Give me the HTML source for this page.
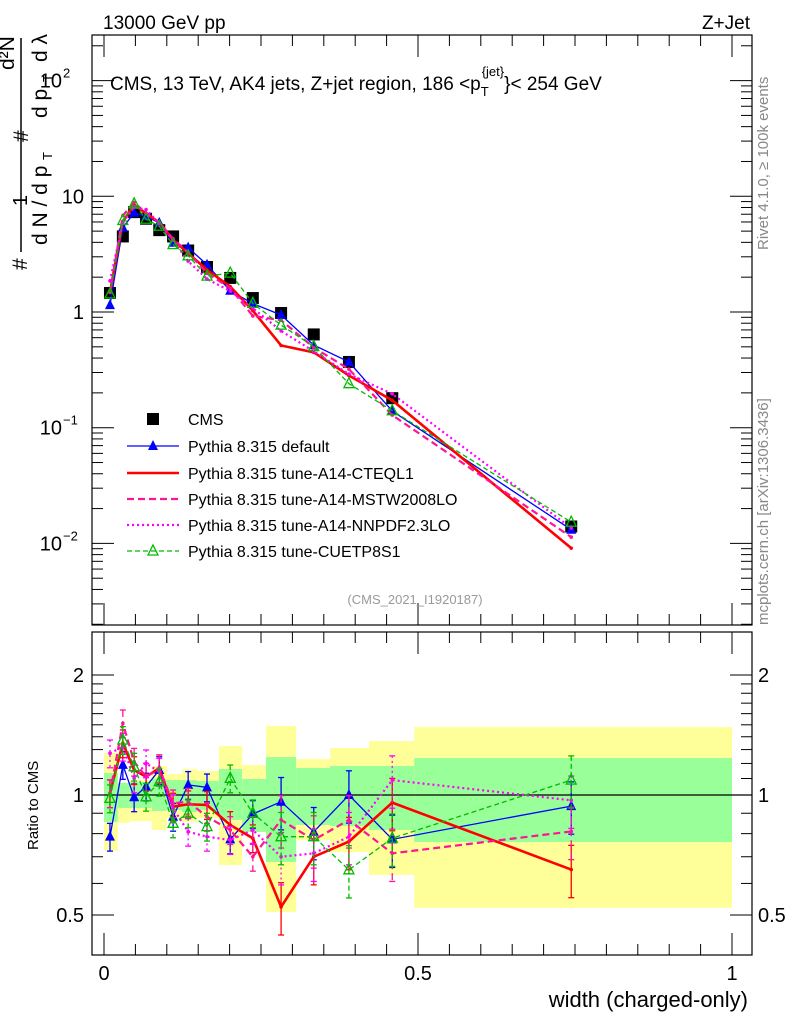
<!DOCTYPE html>
<html><head><meta charset="utf-8"><style>
body{margin:0;background:#fff;}
svg{display:block;font-family:"Liberation Sans",sans-serif;}
</style></head><body>
<svg id="c" width="786" height="1024" viewBox="0 0 786 1024">
<g id="bands"></g>
<g id="axes"></g>
<g id="series"></g>
<text x="103" y="29" font-size="19">13000 GeV pp</text>
<text x="750" y="29" font-size="19" text-anchor="end">Z+Jet</text>
<text x="110" y="90" font-size="19">CMS, 13 TeV, AK4 jets, Z+jet region, 186 &lt;p<tspan font-size="13" dy="6">T</tspan><tspan font-size="13" dx="-7" dy="-20">{jet}</tspan><tspan dy="14">}&lt; 254 GeV</tspan></text>
<text x="415" y="604" font-size="13" fill="#999" text-anchor="middle">(CMS_2021_I1920187)</text>
<text transform="translate(768,250) rotate(-90)" font-size="15" fill="#888">Rivet 4.1.0, ≥ 100k events</text>
<text transform="translate(768,625) rotate(-90)" font-size="15" fill="#888">mcplots.cern.ch [arXiv:1306.3436]</text>
<text transform="translate(38,850) rotate(-90)" font-size="15">Ratio to CMS</text>
<text x="748" y="1007" font-size="22" text-anchor="end">width (charged-only)</text>
<g font-size="21">
<text transform="translate(27,270) rotate(-90)">#</text>
<text transform="translate(27,206) rotate(-90)" font-size="20">1</text>
<line x1="21" y1="252" x2="21" y2="38" stroke="#000" stroke-width="1.5"/>
<text transform="translate(47,245) rotate(-90)">d N / d p</text>
<text transform="translate(52,160) rotate(-90)" font-size="13">T</text>
<text transform="translate(28,142) rotate(-90)">#</text>
<text transform="translate(14,70) rotate(-90)">d²N</text>
<text transform="translate(47,118) rotate(-90)">d p</text>
<text transform="translate(52,82) rotate(-90)" font-size="13">T</text>
<text transform="translate(47,62) rotate(-90)">d λ</text>
</g>
<g id="legend"></g>
</svg>
<script>
const cmsX=[0.0095,0.030,0.048,0.067,0.088,0.110,0.134,0.164,0.201,0.237,0.282,0.334,0.390,0.459,0.744];
const cmsY=[1.46,4.5,7.3,6.4,5.1,4.5,3.4,2.45,1.97,1.32,0.98,0.64,0.37,0.18,0.014];
const binEdges=[0,0.022,0.041,0.076,0.1,0.124,0.148,0.183,0.220,0.258,0.306,0.360,0.422,0.494,1.0];
const greenHi=[1.136,1.072,1.078,1.097,1.09,1.09,1.084,1.162,1.097,1.245,1.169,1.182,1.182,1.238];
const greenLo=[0.856,0.928,0.928,0.912,0.917,0.906,0.917,0.866,0.808,0.679,0.841,0.836,0.817,0.762];
const yellowHi=[1.275,1.072,1.09,1.182,1.129,1.162,1.149,1.327,1.189,1.49,1.231,1.312,1.366,1.481];
const yellowLo=[0.724,0.851,0.86,0.817,0.875,0.856,0.875,0.667,0.808,0.509,0.771,0.719,0.63,0.521];
const rDefault=[0.786,1.19,0.987,1.05,1.155,0.882,1.06,1.045,0.774,0.896,0.962,0.809,1.0,0.774,0.938];
const rA14=[1.01,1.348,1.155,1.111,1.167,0.935,0.948,0.944,0.841,0.779,0.524,0.7,0.764,0.957,0.65];
const rMSTW=[1.01,1.513,1.212,1.111,1.167,0.953,0.962,0.882,0.817,0.7,0.866,0.771,0.866,0.714,0.81];
const rNNPDF=[1.272,1.322,1.101,1.201,1.144,0.926,0.809,0.786,0.771,0.817,0.7,0.714,0.786,1.09,0.97];
const rCUETP=[0.981,1.374,1.178,0.99,1.08,0.849,0.9,0.833,1.101,0.9,0.786,0.786,0.649,0.779,1.09];
const legendLabels=["CMS","Pythia 8.315 default","Pythia 8.315 tune-A14-CTEQL1","Pythia 8.315 tune-A14-MSTW2008LO","Pythia 8.315 tune-A14-NNPDF2.3LO","Pythia 8.315 tune-CUETP8S1"];
const ns="http://www.w3.org/2000/svg";
const X=v=>104+628*v;
const Ym=v=>312-115.7*Math.log10(v);
const Yr=r=>795-173.1*Math.log(r);
function mk(p,tag,at){const e=document.createElementNS(ns,tag);for(const k in at)e.setAttribute(k,at[k]);p.appendChild(e);return e;}
const bands=document.getElementById('bands'),axes=document.getElementById('axes'),ser=document.getElementById('series'),leg=document.getElementById('legend');
for(let i=0;i<greenHi.length;i++){
 const y=mk(bands,'rect',{x:X(binEdges[i]),width:X(binEdges[i+1])-X(binEdges[i]),y:Yr(yellowHi[i]),height:Yr(yellowLo[i])-Yr(yellowHi[i]),fill:'#ffff99'});
 
 
 const g=mk(bands,'rect',{x:X(binEdges[i]),width:X(binEdges[i+1])-X(binEdges[i]),y:Yr(greenHi[i]),height:Yr(greenLo[i])-Yr(greenHi[i]),fill:'#99ff99'});
 
 
}
mk(axes,'rect',{x:92,y:35,width:660,height:590,fill:'none',stroke:'#000','stroke-width':1.2});
mk(axes,'rect',{x:92,y:632,width:660,height:323,fill:'none',stroke:'#000','stroke-width':1.2});
mk(axes,'line',{x1:92,x2:752,y1:Yr(1),y2:Yr(1),stroke:'#000','stroke-width':1.2});
for(let d=-3;d<=2;d++){for(let m=1;m<10;m++){const v=m*Math.pow(10,d);const y=Ym(v);if(y<35||y>625)continue;const L=m==1?22:11;
 mk(axes,'line',{x1:92,x2:92+L,y1:y,y2:y,stroke:'#000'});mk(axes,'line',{x1:752,x2:752-L,y1:y,y2:y,stroke:'#000'});}}
[[10,'10'],[1,'1']].forEach(([v,t])=>{const e=mk(axes,'text',{x:84,y:Ym(v)+7,'font-size':20,'text-anchor':'end'});e.textContent=t;});
[[0.1,'−1'],[0.01,'−2'],[100,'2']].forEach(([v,t])=>{const e=mk(axes,'text',{x:62,y:Ym(v)+7,'font-size':20,'text-anchor':'end'});e.textContent='10';const s=mk(axes,'text',{x:63,y:Ym(v)-3,'font-size':13});s.textContent=t;});
[0.5,0.6,0.7,0.8,0.9,1,2].forEach(r=>{const L=(r==1||r==2||r==0.5)?22:11;const y=Yr(r);mk(axes,'line',{x1:92,x2:92+L,y1:y,y2:y,stroke:'#000'});mk(axes,'line',{x1:752,x2:752-L,y1:y,y2:y,stroke:'#000'});});
[1.1,1.2,1.3,1.4,1.5,1.6,1.7,1.8,1.9].forEach(r=>{const y=Yr(r);mk(axes,'line',{x1:92,x2:103,y1:y,y2:y,stroke:'#000'});mk(axes,'line',{x1:752,x2:741,y1:y,y2:y,stroke:'#000'});});
[[2,'2'],[1,'1'],[0.5,'0.5']].forEach(([r,t])=>{const a=mk(axes,'text',{x:84,y:Yr(r)+7,'font-size':20,'text-anchor':'end'});a.textContent=t;const b=mk(axes,'text',{x:758,y:Yr(r)+7,'font-size':20});b.textContent=t;});
for(let i=0;i<=20;i++){const v=i*0.05;const x=X(v);const L=i%10==0?22:11;
 [[625,-1],[35,1],[955,-1],[632,1]].forEach(([y0,s])=>mk(axes,'line',{x1:x,x2:x,y1:y0,y2:y0+s*L,stroke:'#000'}));}
[[0,'0'],[0.5,'0.5'],[1,'1']].forEach(([v,t])=>{const e=mk(axes,'text',{x:X(v),y:980,'font-size':20,'text-anchor':'middle'});e.textContent=t;});
const styles=[
 {r:rDefault,c:'#0000ff',w:1.3,d:'',m:'tri',name:'default'},
 {r:rA14,c:'#ff0000',w:2.6,d:'',m:'dot',name:'a14-cteql1'},
 {r:rMSTW,c:'#ff1493',w:2.2,d:'7,4',m:'dot',name:'a14-mstw2008lo'},
 {r:rNNPDF,c:'#ff00ff',w:2.2,d:'2,3',m:'dot',name:'a14-nnpdf23lo'},
 {r:rCUETP,c:'#00bb00',w:1.3,d:'5,3',m:'otri',name:'cuetp8s1'}];
function marker(g,type,x,y,c){
 if(type=='tri')mk(g,'path',{d:`M${x-5},${y+4}L${x+5},${y+4}L${x},${y-6}Z`,fill:c});
 else if(type=='otri')mk(g,'path',{d:`M${x-5},${y+4}L${x+5},${y+4}L${x},${y-6}Z`,fill:'none',stroke:c,'stroke-width':1.3});
 else if(type=='sq')mk(g,'rect',{x:x-6,y:y-6,width:12,height:12,fill:c});
 else mk(g,'circle',{cx:x,cy:y,r:1.8,fill:c});
}
const cmsG=mk(ser,'g',{});


cmsX.forEach((v,i)=>marker(cmsG,'sq',X(v),Ym(cmsY[i]),'#000'));
styles.forEach(s=>{
 const g=mk(ser,'g',{});
 
 
 const pm=cmsX.map((v,i)=>X(v)+','+Ym(cmsY[i]*s.r[i])).join(' ');
 const pr=cmsX.map((v,i)=>X(v)+','+Yr(s.r[i])).join(' ');
 mk(g,'polyline',{points:pm,fill:'none',stroke:s.c,'stroke-width':s.w,'stroke-dasharray':s.d});
 mk(g,'polyline',{points:pr,fill:'none',stroke:s.c,'stroke-width':s.w,'stroke-dasharray':s.d});
 cmsX.forEach((v,i)=>{const x=X(v);
  const ym=Ym(cmsY[i]*s.r[i]),yr=Yr(s.r[i]);
  const e=i>9?0.15:0.08;
  mk(g,'line',{x1:x,x2:x,y1:Yr(s.r[i]*(1+e)),y2:Yr(s.r[i]*(1-e)),stroke:s.c,'stroke-width':1.3,'stroke-dasharray':s.d});
  mk(g,'line',{x1:x-3,x2:x+3,y1:Yr(s.r[i]*(1+e)),y2:Yr(s.r[i]*(1+e)),stroke:s.c,'stroke-width':1.3});
  mk(g,'line',{x1:x-3,x2:x+3,y1:Yr(s.r[i]*(1-e)),y2:Yr(s.r[i]*(1-e)),stroke:s.c,'stroke-width':1.3});
  marker(g,s.m,x,ym,s.c);marker(g,s.m,x,yr,s.c);});
});
const ly=[419,446,473,499,525,551];
legendLabels.forEach((t,i)=>{
 const g=mk(leg,'g',{});
 
 
 if(i==0)marker(g,'sq',153,ly[i],'#000');
 else{const s=styles[i-1];mk(g,'line',{x1:127,x2:179,y1:ly[i],y2:ly[i],stroke:s.c,'stroke-width':s.w,'stroke-dasharray':s.d});if(s.m!='dot')marker(g,s.m,153,ly[i],s.c);}
 const e=mk(g,'text',{x:188,y:ly[i]+6,'font-size':16});e.textContent=t;
});
</script>
</body></html>
